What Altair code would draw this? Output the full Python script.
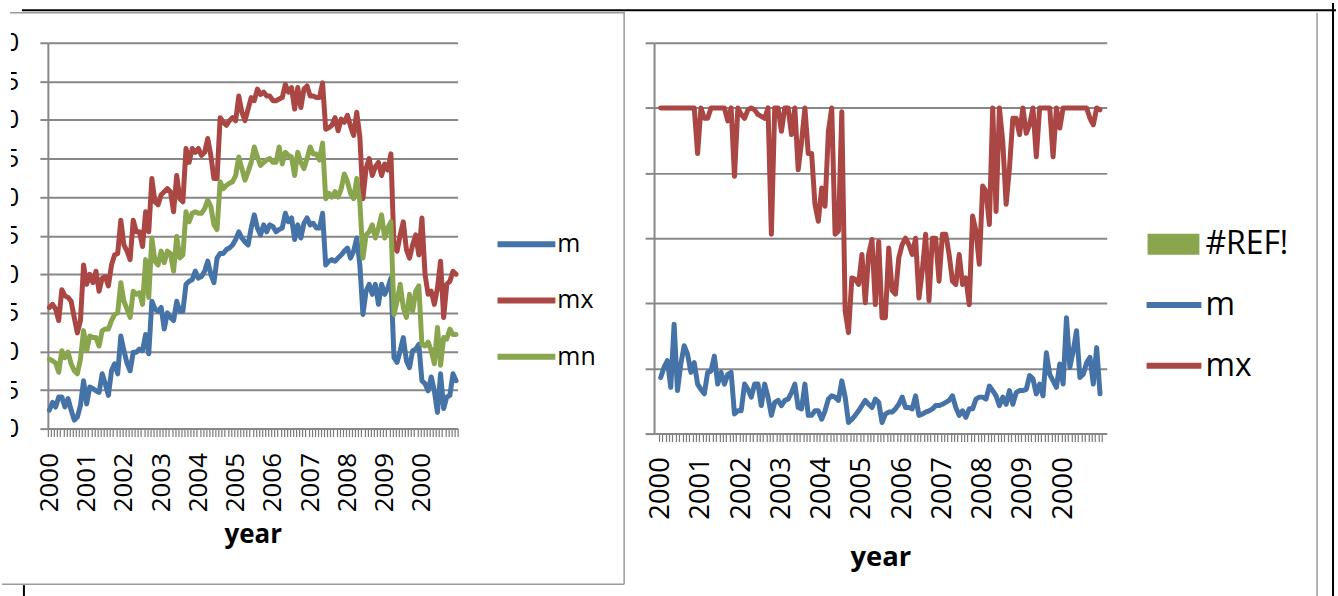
import altair as alt
import pandas as pd

# ---------------- data ----------------
YEAR_LABELS = ["2000", "2001", "2002", "2003", "2004", "2005",
               "2006", "2007", "2008", "2009", "2000"]
MONTHS_PER_LABEL = 12
LEFT_SERIES = ["m", "mx", "mn"]
RIGHT_LINE_SERIES = ["m", "mx"]
REF_SERIES = ["#REF!"]
REF_VALUES = [0.0]
LEFT_Y_TICKS = [0, 5, 10, 15, 20, 25, 30, 35, 40, 45, 50]
RIGHT_Y_TICKS = [0, 10, 20, 30, 40, 50, 60]

M_LEFT = [
    2.4, 3.4, 2.8, 4.1, 4.1, 2.8, 3.9, 2.4, 1.1, 1.5,
    3.0, 6.2, 3.2, 5.4, 5.2, 4.9, 4.7, 7.1, 5.8, 4.3,
    7.5, 8.4, 7.1, 12.0, 10.1, 8.5, 7.5, 9.9, 9.9, 10.3,
    10.1, 12.2, 9.7, 16.5, 15.5, 15.2, 15.7, 12.9, 15.0, 14.4,
    14.0, 16.5, 15.2, 15.2, 18.7, 19.1, 19.3, 20.4, 19.5, 19.7,
    20.4, 21.7, 20.0, 18.9, 22.1, 22.7, 22.7, 23.2, 23.4, 23.8,
    24.5, 25.5, 24.7, 24.2, 23.8, 26.0, 27.7, 26.0, 25.1, 26.4,
    25.5, 26.4, 26.2, 25.5, 25.8, 26.0, 27.9, 26.8, 27.3, 24.5,
    26.4, 24.7, 26.6, 27.3, 26.4, 26.6, 26.0, 26.0, 27.9, 21.2,
    21.7, 21.9, 21.7, 22.1, 22.5, 23.0, 23.4, 22.1, 23.0, 24.7,
    21.2, 14.8, 17.8, 18.7, 17.4, 18.7, 16.1, 18.7, 17.4, 18.2,
    19.5, 9.2, 8.6, 10.1, 11.8, 8.8, 7.9, 10.1, 10.3, 10.9,
    6.2, 5.8, 4.9, 6.7, 4.9, 2.1, 7.1, 2.6, 4.1, 4.3,
    7.1, 6.2,
]
MX_LEFT = [
    15.7, 16.1, 15.5, 14.0, 18.0, 17.2, 17.0, 16.5, 14.4, 12.4,
    14.0, 21.2, 18.7, 20.0, 18.9, 20.4, 17.8, 19.5, 19.7, 18.5,
    21.2, 22.5, 22.7, 27.0, 23.8, 23.0, 21.9, 27.0, 25.5, 25.5,
    23.6, 28.1, 25.5, 32.4, 29.4, 29.0, 30.3, 30.7, 31.1, 30.7,
    28.1, 32.8, 29.8, 29.4, 36.3, 34.5, 36.3, 35.8, 36.3, 35.4,
    35.8, 37.6, 35.4, 32.4, 32.4, 40.3, 39.7, 39.3, 39.9, 40.3,
    39.9, 43.1, 41.0, 39.9, 41.4, 42.9, 42.5, 44.0, 43.3, 43.6,
    43.1, 43.1, 42.5, 42.5, 42.7, 42.9, 44.6, 43.6, 44.2, 41.4,
    44.2, 41.6, 44.0, 44.4, 43.1, 43.1, 42.9, 42.9, 44.8, 38.8,
    39.0, 39.3, 40.3, 38.6, 40.1, 39.7, 40.6, 39.2, 38.0, 41.0,
    37.8, 29.8, 33.7, 35.0, 32.8, 33.9, 34.5, 32.8, 34.3, 33.5,
    35.6, 23.6, 23.0, 25.1, 26.8, 23.2, 22.1, 23.8, 25.1, 22.5,
    27.3, 20.0, 17.4, 17.8, 16.1, 18.2, 21.7, 14.4, 18.7, 19.1,
    20.4, 20.0,
]
MN_LEFT = [
    9.0, 8.8, 8.5, 7.3, 10.1, 9.2, 9.9, 8.4, 7.5, 7.1,
    9.0, 12.7, 10.1, 12.0, 11.8, 11.8, 10.7, 12.7, 12.9, 12.9,
    14.0, 14.8, 15.0, 18.9, 16.5, 15.5, 14.4, 17.8, 17.4, 17.6,
    16.1, 21.9, 17.0, 24.7, 21.7, 21.2, 23.0, 21.5, 23.0, 22.7,
    20.4, 24.9, 22.1, 22.5, 28.1, 26.8, 27.9, 28.1, 27.9, 27.9,
    28.5, 29.6, 28.8, 26.4, 25.8, 32.0, 31.1, 31.5, 31.8, 32.0,
    32.8, 35.2, 33.7, 32.2, 33.3, 34.5, 36.5, 35.2, 34.1, 34.5,
    34.8, 35.0, 34.5, 34.5, 36.5, 34.3, 35.8, 35.4, 35.2, 32.8,
    35.8, 34.5, 33.7, 35.0, 36.5, 35.6, 35.6, 34.8, 37.0, 29.8,
    30.5, 30.0, 30.7, 30.0, 31.1, 33.0, 32.0, 30.5, 29.8, 32.4,
    29.4, 22.1, 25.1, 25.5, 26.4, 24.7, 26.0, 27.7, 24.7, 26.0,
    26.8, 14.8, 16.5, 18.7, 15.7, 14.4, 17.4, 15.2, 17.8, 18.5,
    10.9, 10.7, 11.2, 10.1, 8.4, 13.1, 8.2, 11.8, 11.6, 12.9,
    12.2, 12.2,
]
M_RIGHT = [
    8.6, 10.2, 11.2, 7.1, 16.8, 6.6, 10.7, 13.5, 12.2, 9.4,
    10.9, 7.6, 6.8, 6.1, 9.4, 9.6, 11.9, 7.6, 9.4, 7.6,
    9.1, 9.4, 3.0, 3.5, 3.5, 7.6, 6.8, 5.6, 7.6, 7.6,
    4.3, 7.6, 5.6, 2.8, 4.8, 5.1, 4.3, 5.1, 5.3, 6.3,
    7.6, 4.0, 3.8, 7.6, 2.8, 2.8, 3.5, 3.5, 2.2, 3.5,
    5.3, 5.8, 5.6, 5.1, 8.1, 5.6, 1.7, 2.2, 2.8, 3.5,
    4.3, 5.1, 4.5, 4.0, 5.3, 4.8, 1.7, 3.0, 3.3, 3.3,
    3.8, 4.5, 5.6, 4.0, 4.0, 3.8, 5.8, 2.8, 3.0, 3.3,
    3.5, 3.8, 4.3, 4.3, 4.5, 4.8, 5.1, 5.8, 4.0, 2.8,
    3.5, 2.5, 3.8, 3.8, 5.3, 5.6, 5.6, 5.3, 7.3, 6.6,
    5.8, 4.3, 5.6, 4.5, 6.6, 4.5, 6.3, 6.6, 6.6, 6.8,
    8.9, 8.4, 6.1, 7.6, 5.8, 12.4, 9.1, 8.1, 7.1, 10.7,
    7.6, 17.8, 10.2, 12.7, 15.8, 8.6, 9.1, 10.9, 11.7, 7.6,
    13.2, 6.1,
]
MX_RIGHT = [
    50, 50, 50, 50, 50, 50, 50, 50, 50, 50,
    50, 43, 50, 48.4, 48.4, 50, 50, 50, 50, 50,
    48, 50, 39.5, 50, 49, 48.4, 49.7, 50, 49.7, 49,
    48.7, 48.4, 50, 30.6, 50, 50, 46.4, 50, 50, 45.9,
    50, 40.5, 44.8, 50, 43, 43, 35.2, 32.6, 37.7, 34.9,
    46.4, 50, 30.6, 31.1, 49.4, 18.8, 15.5, 23.9, 23.7, 22.9,
    27.5, 20.1, 27.5, 29.8, 19.8, 29.5, 17.8, 17.8, 28.5, 22,
    21.4, 27, 29, 30, 29, 27.5, 30, 20.8, 25, 30.6,
    20.4, 30, 30, 23.4, 30.6, 30.6, 27.5, 23.4, 22.9, 27.5,
    22.9, 23.9, 19.8, 33.4, 31.1, 26, 38, 37.2, 32.1, 50,
    34.1, 50, 44.8, 35.2, 40.8, 48.4, 48.4, 45.9, 50, 46.1,
    47.4, 50, 42.5, 50, 50, 50, 50, 42.5, 50, 46.9,
    50, 50, 50, 50, 50, 50, 50, 50, 48.4, 47.4,
    50, 49.7,
]

# ---------------- styling ----------------
FONT = "Open Sans"
GRAY = "#878787"
TICK_GRAY = "#7a7a7a"
BLUE, RED, GREEN = "#4572A7", "#AA4643", "#89A54E"
LEFT_COLORS = [BLUE, RED, GREEN]
RIGHT_COLORS = [BLUE, RED]

LW, LH = 411, 387          # left plot area
RW, RH = 454, 392          # right plot area
OX, OY = 46, 40            # left plot origin in the page


def long_table(pairs):
    frames = [pd.DataFrame({"idx": list(range(len(v))), "value": v, "series": s})
              for s, v in pairs]
    return pd.concat(frames, ignore_index=True)


left_df = long_table([("m", M_LEFT), ("mx", MX_LEFT), ("mn", MN_LEFT)])
right_df = long_table([("m", M_RIGHT), ("mx", MX_RIGHT)])
ref_df = long_table([(REF_SERIES[0], REF_VALUES)])
N = len(M_LEFT)

years_js = "[" + ",".join("'%s'" % y for y in YEAR_LABELS) + "]"
label_expr = ("(datum.value + 0.5) %% %d == 0 && datum.value + 0.5 < %d ? %s[(datum.value + 0.5) / %d] : ''"
              % (MONTHS_PER_LABEL, N, years_js, MONTHS_PER_LABEL))
tick_values = [i - 0.5 for i in range(N + 1)]


def x_enc(width, fsize, lpad, tpad):
    return alt.X(
        "idx:Q",
        scale=alt.Scale(domain=[-0.5, N - 0.5], nice=False, zero=False),
        axis=alt.Axis(
            values=tick_values, labelExpr=label_expr, labelAngle=270,
            labelOffset=width / N / 2, labelOverlap=False, labelFlush=False,
            labelBound=False, labelFont=FONT, labelFontSize=fsize,
            labelColor="black", labelPadding=lpad,
            tickSize=8, tickWidth=1.2, tickColor=TICK_GRAY,
            domainColor=GRAY, domainWidth=2, grid=False,
            title="year", titleFont=FONT, titleFontSize=fsize,
            titleFontWeight="bold", titleColor="black", titlePadding=tpad,
        ),
    )


y_left = alt.Y(
    "value:Q",
    scale=alt.Scale(domain=[0, 50], nice=False),
    axis=alt.Axis(
        values=LEFT_Y_TICKS, grid=True, gridColor=GRAY, gridWidth=2,
        tickSize=8, tickWidth=2, tickColor=GRAY, domainColor=GRAY, domainWidth=2,
        labelExpr="slice(datum.label, -1)", labelFont=FONT, labelFontSize=26,
        labelColor="black", labelPadding=21, title=None,
    ),
)
y_right = alt.Y(
    "value:Q",
    scale=alt.Scale(domain=[0, 60], nice=False),
    axis=alt.Axis(
        values=RIGHT_Y_TICKS, grid=True, gridColor=GRAY, gridWidth=2,
        tickSize=9, tickWidth=2, tickColor=GRAY, domainColor=GRAY, domainWidth=2,
        labels=False, title=None,
    ),
)

legend_left = alt.Legend(
    orient="none", legendX=457, legendY=179, title=None, padding=0,
    symbolType="M-1.45,0H1.45", symbolSize=1600, symbolStrokeWidth=6,
    labelFont=FONT, labelFontSize=25, labelColor="black",
    labelOffset=8, rowPadding=20.5,
)
legend_right = alt.Legend(
    orient="none", legendX=491, legendY=232.5, title=None, padding=0,
    symbolType="stroke", symbolSize=3025, symbolStrokeWidth=6,
    labelFont=FONT, labelFontSize=32, labelColor="black",
    labelOffset=1, rowPadding=14,
)
legend_ref = alt.Legend(
    orient="none", legendX=493.5, legendY=174.5, title=None, padding=0,
    symbolType="M-0.945,-0.382H0.945V0.382H-0.945Z", symbolSize=3025,
    symbolStrokeWidth=0, symbolOpacity=1,
    labelFont=FONT, labelFontSize=32, labelColor="black", labelOffset=4.5,
)

color_left = alt.Color("series:N", scale=alt.Scale(domain=LEFT_SERIES, range=LEFT_COLORS),
                       legend=legend_left)
color_right = alt.Color("series:N", scale=alt.Scale(domain=RIGHT_LINE_SERIES, range=RIGHT_COLORS),
                        legend=legend_right)
fill_ref = alt.Fill("series:N", scale=alt.Scale(domain=REF_SERIES, range=[GREEN]),
                    legend=legend_ref)


def series_line(df, name, x, y, color):
    return (alt.Chart(df)
            .transform_filter(alt.datum.series == name)
            .mark_line(strokeWidth=5, strokeJoin="round", strokeCap="round")
            .encode(x=x, y=y, color=color))


# ---------------- frame decorations (page pixels, relative to left plot) ----------------
decor_df = pd.DataFrame({"k": [0]})


def hline(x1, x2, y, color, w):
    return alt.Chart(decor_df).mark_rule(color=color, strokeWidth=w).encode(
        x=alt.value(x1 - OX), x2=alt.value(x2 - OX), y=alt.value(y - OY))


def vline(x, y1, y2, color, w):
    return alt.Chart(decor_df).mark_rule(color=color, strokeWidth=w).encode(
        x=alt.value(x - OX), y=alt.value(y1 - OY), y2=alt.value(y2 - OY))


def box(x1, x2, y1, y2, opacity):
    return alt.Chart(decor_df).mark_rect(fill="white", opacity=opacity).encode(
        x=alt.value(x1 - OX), x2=alt.value(x2 - OX), y=alt.value(y1 - OY), y2=alt.value(y2 - OY))


page = box(0, 1338, 0, 596, 0)
edge_mask = box(0, 9, 20, 445, 1)   # chart-area edge that cuts the y labels

frames = [
    hline(8, 624, 10, "#9a9a9a", 1.5),
    hline(20, 1338, 7.5, "black", 2),
    vline(624, 8, 583, "#9a9a9a", 1.5),
    hline(0, 624, 583, "#9a9a9a", 1.5),
    vline(22, 584, 596, "black", 2),
    vline(1319, 10, 596, "#9a9a9a", 1.5),
    vline(1335, 0, 596, "black", 2),
]

xl = x_enc(LW, 26, 16, 10)
xr = x_enc(RW, 27.5, 15, 24)

left = alt.layer(
    page,
    *[series_line(left_df, s, xl, y_left, color_left) for s in LEFT_SERIES],
    edge_mask,
    *frames,
).properties(width=LW, height=LH)

ref_layer = alt.Chart(ref_df).mark_bar(size=2).encode(x=xr, y=y_right, fill=fill_ref)

right = alt.layer(
    ref_layer,
    *[series_line(right_df, s, xr, y_right, color_right) for s in RIGHT_LINE_SERIES],
).properties(width=RW, height=RH)

chart = (
    alt.hconcat(left, right, spacing=654 - OX - LW, bounds="flush")
    .resolve_scale(color="independent", fill="independent", x="independent", y="independent")
    .resolve_legend(color="independent", fill="independent")
    .properties(padding=0, background="white")
    .configure_view(stroke="transparent")
    .configure_axis(zindex=0)
)

chart.save("out.html", embed_options={"renderer": "svg", "actions": False})
